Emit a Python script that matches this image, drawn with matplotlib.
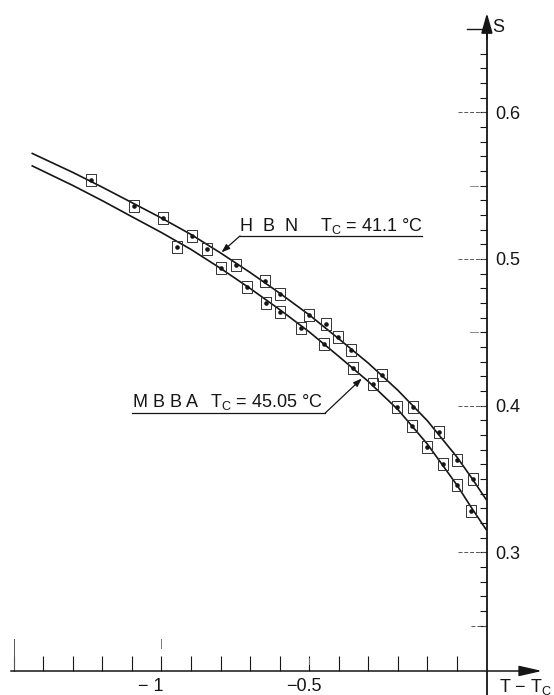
import matplotlib
matplotlib.use("Agg")
import matplotlib.pyplot as plt
from matplotlib.path import Path

plt.rcParams['font.family'] = ['Liberation Sans', 'DejaVu Sans']

# ---------------- data ----------------
hbn_x = [-1.239, -1.094, -0.996, -0.897, -0.846, -0.748, -0.651, -0.599, -0.500,
         -0.443, -0.402, -0.359, -0.253, -0.148, -0.062, 0.002, 0.053]
hbn_s = [0.554, 0.536, 0.528, 0.516, 0.507, 0.496, 0.485, 0.476, 0.462,
         0.456, 0.447, 0.438, 0.421, 0.399, 0.382, 0.363, 0.350]

mbba_x = [-0.948, -0.800, -0.712, -0.647, -0.598, -0.528, -0.450, -0.353, -0.283,
          -0.203, -0.151, -0.100, -0.048, 0.001, 0.048]
mbba_s = [0.508, 0.494, 0.481, 0.470, 0.464, 0.453, 0.442, 0.426, 0.415,
          0.399, 0.386, 0.372, 0.360, 0.346, 0.328]

# fitted curves
curve_x = [-1.44, -1.3, -1.2, -1.1, -1.0, -0.9, -0.8, -0.7, -0.6, -0.5, -0.4,
           -0.3, -0.2, -0.1, 0.0, 0.05, 0.1]
hbn_fit = [0.5722, 0.5590, 0.5489, 0.5384, 0.5279, 0.5167, 0.5041, 0.4908, 0.4767,
           0.4619, 0.4456, 0.4290, 0.4105, 0.3897, 0.3650, 0.3507, 0.3357]
mbba_fit = [0.5637, 0.5501, 0.5397, 0.5288, 0.5180, 0.5065, 0.4936, 0.4799, 0.4655,
            0.4503, 0.4336, 0.4165, 0.3974, 0.3738, 0.3459, 0.3302, 0.3152]

y_major = [0.3, 0.4, 0.5, 0.6]
y_major_labels = ["0.3", "0.4", "0.5", "0.6"]
x_label_pos = [-1.0, -0.5]
x_label_text = ["\u2212 1", "\u22120.5"]

hbn_label = "H  B  N"
hbn_tc = r"$\mathregular{T_C}$ = 41.1 °C"
mbba_label = "M B B A"
mbba_tc = r"$\mathregular{T_C}$ = 45.05 °C"

# ---------------- figure ----------------
K = "#151515"
FS = 13
fig = plt.figure(figsize=(5.54, 6.95), dpi=100)
ax = fig.add_axes([0, 0, 1, 1])
ax.set_xlim(-1.5467, 0.3287)
ax.set_ylim(0.20271, 0.67657)
ax.patch.set_visible(False)

X0 = 0.1016   # position of vertical axis
Y0 = 0.2191   # position of horizontal axis

for s in ("top", "left"):
    ax.spines[s].set_visible(False)
ax.spines["right"].set_position(("data", X0))
ax.spines["right"].set_bounds(0.2027, 0.655)
ax.spines["right"].set_linewidth(1.3)
ax.spines["right"].set_color(K)
ax.spines["bottom"].set_position(("data", Y0))
ax.spines["bottom"].set_bounds(-1.51, 0.25)
ax.spines["bottom"].set_linewidth(1.1)
ax.spines["bottom"].set_color(K)

ax.xaxis.set_ticks_position("bottom")
ax.set_xticks(x_label_pos)
ax.set_xticks([round(-0.1 * i, 1) for i in range(0, 16) if i not in (5, 10)], minor=True)
ax.tick_params(axis="x", which="both", direction="in", length=10.8, width=0.8,
               color=K, labelbottom=False)

ax.yaxis.set_ticks_position("right")
ax.set_yticks(y_major)
ax.set_yticklabels(y_major_labels)
ax.set_yticks([round(0.01 * i, 2) for i in range(25, 65) if i % 10], minor=True)
ax.tick_params(axis="y", which="both", direction="in", length=5, width=0.8,
               color=K, labelright=True, labelleft=False, pad=6, labelsize=FS,
               labelcolor=K)

# arrow heads of the axes
ax.annotate("", xy=(0.288, Y0), xytext=(0.24, Y0),
            arrowprops=dict(arrowstyle="-|>,head_length=0.7,head_width=0.16",
                            mutation_scale=20, lw=1.1, color=K, shrinkA=0, shrinkB=0))
ax.annotate("", xy=(X0, 0.6677), xytext=(X0, 0.65),
            arrowprops=dict(arrowstyle="-|>,head_length=0.6,head_width=0.17",
                            mutation_scale=20, lw=1.3, color=K, shrinkA=0, shrinkB=0))

# faint grid stubs of the scanned original
stub = dict(color="#555555", lw=0.7, ls=(0, (4, 2)))
for yv in y_major:
    ax.plot([0.004, X0], [yv, yv], **stub)
ax.plot([0.048, X0], [0.25, 0.25], **stub)
ax.plot([0.045, 0.07], [0.55, 0.55], color="#777777", lw=0.6)
ax.plot([0.045, 0.07], [0.45, 0.45], color="#777777", lw=0.6)
ax.plot([0.035, X0], [0.6565, 0.6565], color=K, lw=1.0)
ax.plot([-1.5, -1.5], [Y0, 0.241], color="#555555", lw=0.7)
ax.plot([-1.0, -1.0], [0.235, 0.241], color="#777777", lw=0.7)
ax.plot([-0.5, -0.5], [0.224, 0.228], color="#777777", lw=0.7)

# curves
ax.plot(curve_x, hbn_fit, color=K, lw=1.2, solid_capstyle="butt", zorder=3)
ax.plot(curve_x, mbba_fit, color=K, lw=1.2, solid_capstyle="butt", zorder=3)

# data points: open rectangles with a dot inside
rect = Path([(-0.8, -1), (0.8, -1), (0.8, 1), (-0.8, 1), (-0.8, -1)],
            [Path.MOVETO, Path.LINETO, Path.LINETO, Path.LINETO, Path.CLOSEPOLY])
for xs, ys in ((hbn_x, hbn_s), (mbba_x, mbba_s)):
    ax.plot(xs, ys, ls="none", marker=rect, markersize=8.3, mfc="none",
            mec="#333333", mew=0.7, zorder=4)
    ax.plot(xs, ys, ls="none", marker="o", markersize=3.3, mfc=K, mec=K,
            mew=0, zorder=5)

# labels of the curves
ax.text(-0.7343, 0.5193, hbn_label, fontsize=FS, color=K, ha="left", va="baseline")
ax.text(-0.4634, 0.5193, hbn_tc, fontsize=FS, color=K, ha="left", va="baseline")
ax.plot([-0.7343, -0.1181], [0.5157, 0.5157], color=K, lw=0.9)
ax.annotate("", xy=(-0.797, 0.5045), xytext=(-0.7343, 0.5157),
            arrowprops=dict(arrowstyle="-|>,head_length=0.5,head_width=0.18",
                            mutation_scale=10, lw=0.9, color=K, shrinkA=0, shrinkB=0))

ax.text(-1.0955, 0.3991, mbba_label, fontsize=FS, color=K, ha="left", va="baseline")
ax.text(-0.8358, 0.3991, mbba_tc, fontsize=FS, color=K, ha="left", va="baseline")
ax.plot([-1.1009, -0.4465], [0.3948, 0.3948], color=K, lw=0.9)
ax.annotate("", xy=(-0.322, 0.4185), xytext=(-0.4465, 0.3948),
            arrowprops=dict(arrowstyle="-|>,head_length=0.5,head_width=0.18",
                            mutation_scale=10, lw=0.9, color=K, shrinkA=0, shrinkB=0))

# axis labels
ax.text(-0.9916, 0.2085, x_label_text[0], fontsize=FS, color=K, ha="right", va="center")
ax.text(-0.5176, 0.2085, x_label_text[1], fontsize=FS, color=K, ha="center", va="center")
ax.text(0.231, 0.2085, r"T − $\mathregular{T_C}$", fontsize=FS, color=K,
        ha="center", va="center")
ax.text(0.1410, 0.6580, "S", fontsize=FS, color=K, ha="center", va="center")

fig.savefig("out.png", dpi=100)
